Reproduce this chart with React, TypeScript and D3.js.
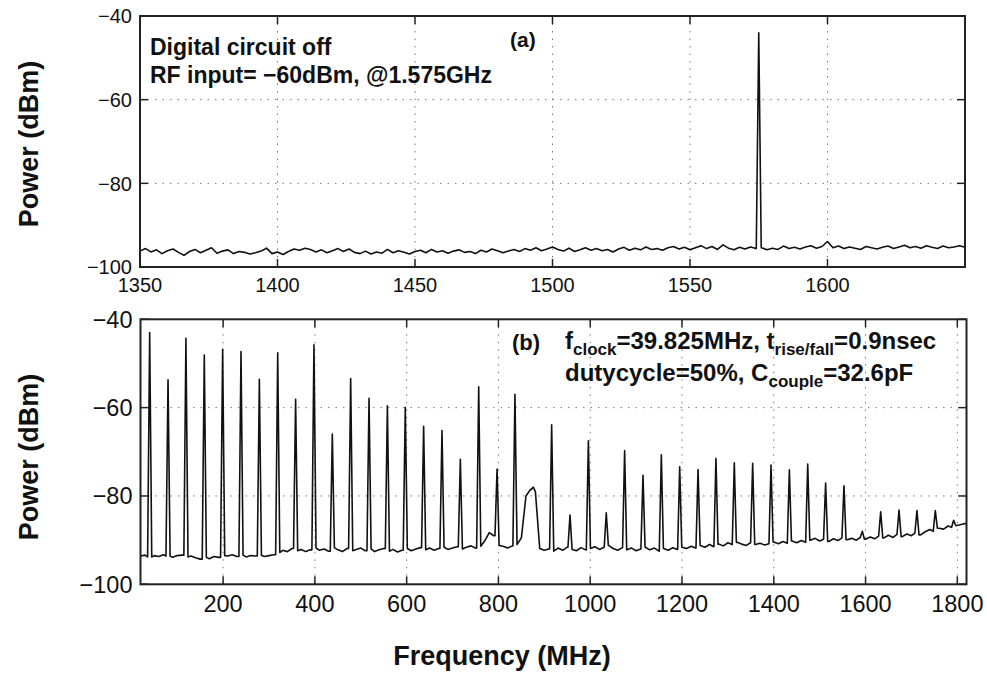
import * as d3 from "d3";

// ---- data ----
// panel (a): digital circuit off, sampled every 2 MHz from 1350 MHz
const topStart = 1350;
const topStep = 2;
const topFloor = [
  -96.2, -95.6, -96.4, -95.9, -96.8, -96.1, -95.7, -96.5, -97.2, -96.3, -95.8, -96.6, -96.0,
  -95.4, -96.7, -96.2, -95.9, -96.8, -96.3, -96.5, -96.9, -96.6, -96.2, -95.5, -96.8, -96.4,
  -97.0, -96.3, -95.7, -96.0, -95.5, -95.8, -96.4, -95.9, -96.6, -96.1, -95.6, -96.3, -95.7,
  -96.5, -96.8, -96.2, -96.9, -96.4, -96.7, -95.8, -96.6, -96.1, -96.5, -96.9, -96.3,
  -96.0, -96.6, -95.8, -96.4, -96.1, -96.7, -96.2, -95.9, -96.5, -96.3, -96.8, -96.0, -96.4,
  -95.7, -96.1, -96.6, -96.2, -95.8, -96.3, -95.6, -96.0, -95.4, -96.1, -95.7, -95.2,
  -95.8, -96.2, -95.5, -96.3, -95.9, -95.4, -96.0, -95.6, -96.1, -95.8, -96.4, -95.7, -95.3,
  -96.0, -95.5, -95.9, -95.2, -95.8, -95.6, -96.0, -95.4, -95.1, -95.7, -95.3, -95.9,
  -95.4, -94.9, -95.6, -95.1, -95.8, -94.7, -95.5, -95.9, -95.3, -95.7, -95.2, -95.6, -95.4,
  -95.9, -95.5, -95.8, -95.0, -95.6, -95.3, -95.7, -95.2, -94.9, -95.5, -95.1, -93.9,
  -95.4, -95.0, -95.6, -95.2, -95.5, -95.8, -95.1, -95.4, -95.7, -95.3, -95.0, -95.6, -95.2,
  -94.8, -95.4, -95.1, -95.5, -94.9, -95.3, -95.6, -95.0, -95.4, -95.2, -94.9, -95.3,
];
const topPeakFreqs = [1575];
const topPeakLevels = [-44];

// panel (b): clock running, floor sampled every 10 MHz from 20 MHz
const botStart = 20;
const botStep = 10;
const botFloor = [
  -93.6, -93.4, -93.8, -93.5, -93.7, -93.3, -93.6, -93.9, -93.5,
  -93.4, -93.8, -93.6, -94.0, -94.3, -93.9, -94.2, -93.7, -93.9, -93.5,
  -93.6, -93.3, -93.7, -93.4, -93.8, -93.5, -93.6, -93.4, -93.7, -93.5,
  -93.3, -92.8, -92.3, -92.6, -91.9, -92.4, -92.1, -92.6, -92.2, -91.8,
  -92.3, -92.0, -92.5, -91.7, -92.2, -92.6, -91.9, -92.4, -92.1, -91.8,
  -92.4, -92.0, -92.6, -92.2, -91.9, -92.5, -92.1, -92.7, -92.3, -91.9,
  -92.4, -92.0, -91.7, -92.2, -91.8, -92.3, -91.9, -91.6, -92.1, -91.8,
  -91.5, -92.0, -91.6, -91.3, -91.8, -91.4, -90.2, -88.3, -89.0, -91.2,
  -91.4, -91.8, -91.3, -91.0, -89.5, -80.0, -78.5, -79.0, -91.9, -92.3,
  -92.0, -92.5, -91.8, -92.3, -91.6, -92.1, -92.4, -91.7, -92.2, -91.9,
  -91.5, -92.1, -91.6, -91.2, -91.9, -92.3, -91.7, -92.2, -91.8, -92.4,
  -92.0, -91.6, -92.2, -91.8, -92.5, -91.9, -92.3, -91.7, -92.1, -91.6,
  -91.9, -91.4, -91.8, -91.2, -91.6, -91.0, -91.5, -90.9, -91.3, -90.6,
  -91.0, -90.5, -90.9, -91.2, -90.6, -91.0, -90.7, -91.1, -90.8, -90.4,
  -90.8, -90.3, -90.7, -90.2, -90.6, -90.1, -90.5, -90.0, -89.6, -90.2,
  -89.8, -90.3, -89.7, -90.1, -89.5, -89.9, -89.6, -90.0, -89.4, -89.8,
  -89.3, -89.7, -89.1, -89.5, -88.9, -89.4, -88.7, -89.2, -88.6, -89.0,
  -88.4, -88.8, -88.1, -87.6, -88.0, -87.3, -87.5, -86.8, -87.1, -86.7, -86.4, -86.2,
];
const harmonicFreqs = [
  40, 80, 119, 159, 199, 239, 279, 319, 358, 398, 438, 478, 518, 558, 597, 637, 677, 717,
  757, 797, 836, 876, 916, 956, 996, 1035, 1075, 1115, 1155, 1195, 1235, 1274, 1314, 1354,
  1394, 1434, 1474, 1513, 1553, 1593, 1633, 1673, 1712, 1752, 1792,
];
const harmonicLevels = [
  -43, -53.7, -44.3, -48.1, -46.8, -47.3, -53.6, -47.6, -58.1, -45.8, -66, -53.4, -57.9,
  -59.6, -59.9, -64.2, -65.2, -71.7, -55.3, -73.9, -57, -78, -63.9, -84.3, -67.5, -83.8,
  -69.7, -75.3, -70.7, -73.4, -74, -71.5, -72.5, -72.6, -73, -74.1, -72.8, -77.1, -77.7,
  -88, -83.6, -83.2, -83.3, -83.3, -85.5,
];

const topXTicks = [1350, 1400, 1450, 1500, 1550, 1600];
const botXTicks = [200, 400, 600, 800, 1000, 1200, 1400, 1600, 1800];
const yTicks = [-40, -60, -80, -100];

type Pt = { f: number; p: number };

function buildTrace(
  start: number,
  step: number,
  floor: number[],
  peakF: number[],
  peakL: number[],
  halfWidth: number
): Pt[] {
  const near = (x: number) =>
    floor[Math.max(0, Math.min(floor.length - 1, Math.round((x - start) / step)))];
  const pts: Pt[] = floor
    .map((v, i) => ({ f: start + i * step, p: v }))
    .filter((pt) => !peakF.some((f) => Math.abs(pt.f - f) < halfWidth));
  peakF.forEach((f, i) => {
    pts.push({ f: f - halfWidth, p: near(f - halfWidth) });
    pts.push({ f, p: peakL[i] });
    pts.push({ f: f + halfWidth, p: near(f + halfWidth) });
  });
  return pts.sort((a, b) => a.f - b.f);
}

const font = "'Liberation Sans', Arial, Helvetica, sans-serif";

function Panel({
  x0, x1, y0, y1, domain, xTicks, data, tickFont, xLabelGap,
}: {
  x0: number; x1: number; y0: number; y1: number; domain: [number, number];
  xTicks: number[]; data: Pt[]; tickFont: number; xLabelGap: number;
}) {
  const x = d3.scaleLinear().domain(domain).range([x0, x1]);
  const y = d3.scaleLinear().domain([-100, -40]).range([y1, y0]);
  const line = d3
    .line<Pt>()
    .x((d) => x(d.f))
    .y((d) => y(d.p));
  const tl = 8;
  return (
    <g>
      {/* dotted grid */}
      {xTicks.filter((t) => x(t) > x0 + 1).map((t) => (
        <line key={"gx" + t} x1={x(t)} x2={x(t)} y1={y0} y2={y1}
          stroke="#777" strokeWidth={1} strokeDasharray="1.5 6" />
      ))}
      {yTicks.filter((t) => t !== -40 && t !== -100).map((t) => (
        <line key={"gy" + t} x1={x0} x2={x1} y1={y(t)} y2={y(t)}
          stroke="#777" strokeWidth={1} strokeDasharray="1.5 6" />
      ))}
      <path d={line(data) ?? ""} fill="none" stroke="#111" strokeWidth={1.6}
        strokeLinejoin="round" />
      {/* ticks on all sides */}
      {xTicks.map((t) => (
        <g key={"tx" + t}>
          <line x1={x(t)} x2={x(t)} y1={y1} y2={y1 - tl} stroke="#222" strokeWidth={1.5} />
          <line x1={x(t)} x2={x(t)} y1={y0} y2={y0 + tl} stroke="#222" strokeWidth={1.5} />
          <text x={x(t)} y={y1 + xLabelGap} textAnchor="middle" fontSize={tickFont}
            fontFamily={font} fill="#111">{t}</text>
        </g>
      ))}
      {yTicks.map((t) => (
        <g key={"ty" + t}>
          <line x1={x0} x2={x0 + tl} y1={y(t)} y2={y(t)} stroke="#222" strokeWidth={1.5} />
          <line x1={x1} x2={x1 - tl} y1={y(t)} y2={y(t)} stroke="#222" strokeWidth={1.5} />
          <text x={x0 - 8} y={y(t)} dy="0.36em" textAnchor="end" fontSize={tickFont}
            fontFamily={font} fill="#111">{String(t).replace("-", "\u2212")}</text>
        </g>
      ))}
      <rect x={x0} y={y0} width={x1 - x0} height={y1 - y0} fill="none"
        stroke="#222" strokeWidth={2} />
    </g>
  );
}

export default function App() {
  const topData = buildTrace(topStart, topStep, topFloor, topPeakFreqs, topPeakLevels, 0.9);
  const botData = buildTrace(botStart, botStep, botFloor, harmonicFreqs, harmonicLevels, 4.5);
  const bold = { fontFamily: font, fontWeight: 700, fill: "#111" } as const;
  return (
    <div style={{ position: "absolute", left: 0, top: 0 }}>
      <svg width={987} height={681} viewBox="0 0 987 681" style={{ display: "block", background: "#fff" }}>
        <Panel x0={140} x1={965} y0={16} y1={267} domain={[1350, 1650]}
          xTicks={topXTicks} data={topData} tickFont={20} xLabelGap={25} />
        <Panel x0={140.5} x1={966.5} y0={319.3} y1={584.3} domain={[20, 1820]}
          xTicks={botXTicks} data={botData} tickFont={23.5} xLabelGap={28} />

        <text x={150} y={55} fontSize={23} {...bold}>Digital circuit off</text>
        <text x={150} y={83} fontSize={23} {...bold}>RF input= {"\u2212"}60dBm, @1.575GHz</text>
        <text x={510} y={47} fontSize={21} {...bold}>(a)</text>

        <text x={512} y={350} fontSize={22} {...bold}>(b)</text>
        <text x={565} y={349} fontSize={24} {...bold}>
          f<tspan fontSize={17} dy={6}>clock</tspan>
          <tspan dy={-6}>=39.825MHz, t</tspan>
          <tspan fontSize={17} dy={6}>rise/fall</tspan>
          <tspan dy={-6}>=0.9nsec</tspan>
        </text>
        <text x={565} y={381} fontSize={24} {...bold}>
          dutycycle=50%, C<tspan fontSize={17} dy={6}>couple</tspan>
          <tspan dy={-6}>=32.6pF</tspan>
        </text>

        <text transform="translate(38,144) rotate(-90)" textAnchor="middle" fontSize={27} {...bold}>
          Power (dBm)
        </text>
        <text transform="translate(38,457) rotate(-90)" textAnchor="middle" fontSize={27} {...bold}>
          Power (dBm)
        </text>
        <text x={502} y={665} textAnchor="middle" fontSize={27} {...bold}>Frequency (MHz)</text>
      </svg>
    </div>
  );
}
